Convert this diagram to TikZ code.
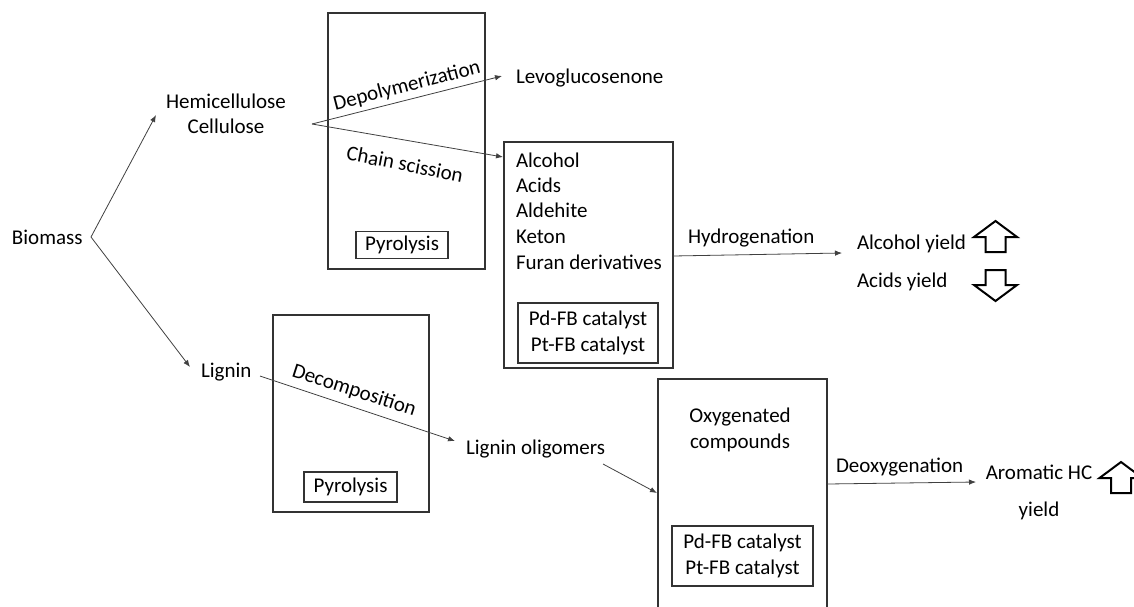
\documentclass[tikz,border=0pt]{standalone}
\usepackage{fontspec}
\setmainfont{Carlito}
\usetikzlibrary{arrows.meta}
\begin{document}
\begin{tikzpicture}[x=1pt,y=-1pt,
  every node/.style={font=\fontsize{21}{25.5}\selectfont, inner sep=0pt, outer sep=0pt},
  box/.style={draw=black!80, line width=1.3pt},
  conn/.style={draw=black!75, line width=0.8pt, -{Latex[length=7pt,width=5.5pt]}},
  yieldarrow/.pic={\draw[line width=2pt, line join=miter] (0,0) -- (21.5,16) -- (10,16) -- (10,31) -- (-10,31) -- (-10,16) -- (-21.5,16) -- cycle;}
]
\useasboundingbox (0,0) rectangle (1134,606);
\clip (0,0) rectangle (1134,606);

% boxes
\node[box, minimum width=157pt, minimum height=256pt] (pyr1) at (406.5,141) {};
\node[box, minimum width=92pt, minimum height=27pt] (pyr1lab) at (402,245) {Pyrolysis};
\node[box, minimum width=156pt, minimum height=197pt] (pyr2) at (351,413.5) {};
\node[box, minimum width=93pt, minimum height=30pt] (pyr2lab) at (350.5,487) {Pyrolysis};
\node[box, minimum width=169pt, minimum height=226pt] (prod) at (588.5,255) {};
\node[box, minimum width=140pt, minimum height=60pt, align=center] (cat1) at (588,333) {Pd-FB catalyst\\Pt-FB catalyst};
\node[box, minimum width=169pt, minimum height=262pt] (oxybox) at (742.5,510) {};
\node[box, minimum width=141pt, minimum height=60pt, align=center] (cat2) at (742.5,556) {Pd-FB catalyst\\Pt-FB catalyst};

% texts
\node[anchor=base west] (biomass) at (12,244) {Biomass};
\node[align=center] (hc) at (226,114) {Hemicellulose\\Cellulose};
\node[anchor=base west] (levo) at (516,83) {Levoglucosenone};
\node[anchor=base west] (alc) at (516,167) {Alcohol};
\node[anchor=base west] (acid) at (516,192) {Acids};
\node[anchor=base west] (ald) at (516,217) {Aldehite};
\node[anchor=base west] (ket) at (516,243) {Keton};
\node[anchor=base west] (fur) at (516,269) {Furan derivatives};
\node[anchor=base west] (lignin) at (201,377) {Lignin};
\node[anchor=base west] (ligo) at (466,454) {Lignin oligomers};
\node[align=center] (oxy) at (740,430) {Oxygenated\\compounds};
\node[anchor=base west] (alcy) at (857,249) {Alcohol yield};
\node[anchor=base west] (acidy) at (857,287) {Acids yield};
\node[align=center] (arom) at (1039,492.5) {Aromatic HC\\[11.5pt]yield};

% process labels
\node[rotate=14.5] (depol) at (407,86) {Depolymerization};
\node[rotate=-11] (chain) at (405,164) {Chain scission};
\node[rotate=-18] (decomp) at (354,391) {Decomposition};
\node[anchor=base west] (hydro) at (688,243) {Hydrogenation};
\node[anchor=base west] (deoxy) at (836,472) {Deoxygenation};

% connector points
\coordinate (bmA) at (91,237);
\coordinate (hcIn) at (156,115);
\coordinate (lgIn) at (190,367);
\coordinate (hcOut) at (312,124);
\coordinate (levoIn) at (502,76);
\coordinate (prodIn) at (503,157);
\coordinate (lgOut) at (260,376);
\coordinate (ligoIn) at (455,441);
\coordinate (ligoOut) at (603,464);
\coordinate (oxyIn) at (657,493);
\coordinate (hydOut) at (673,256);
\coordinate (hydIn) at (842,253);
\coordinate (deoOut) at (827,484);
\coordinate (deoIn) at (976,482);

\draw[conn] (bmA) -- (hcIn);
\draw[conn] (bmA) -- (lgIn);
\draw[conn] (hcOut) -- (levoIn);
\draw[conn] (hcOut) -- (prodIn);
\draw[conn] (lgOut) -- (ligoIn);
\draw[conn] (ligoOut) -- (oxyIn);
\draw[conn] (hydOut) -- (hydIn);
\draw[conn] (deoOut) -- (deoIn);

% yield arrows
\pic at (995.5,221) {yieldarrow};
\pic[rotate=180] at (995.5,301) {yieldarrow};
\pic at (1121,462) {yieldarrow};
\end{tikzpicture}
\end{document}
